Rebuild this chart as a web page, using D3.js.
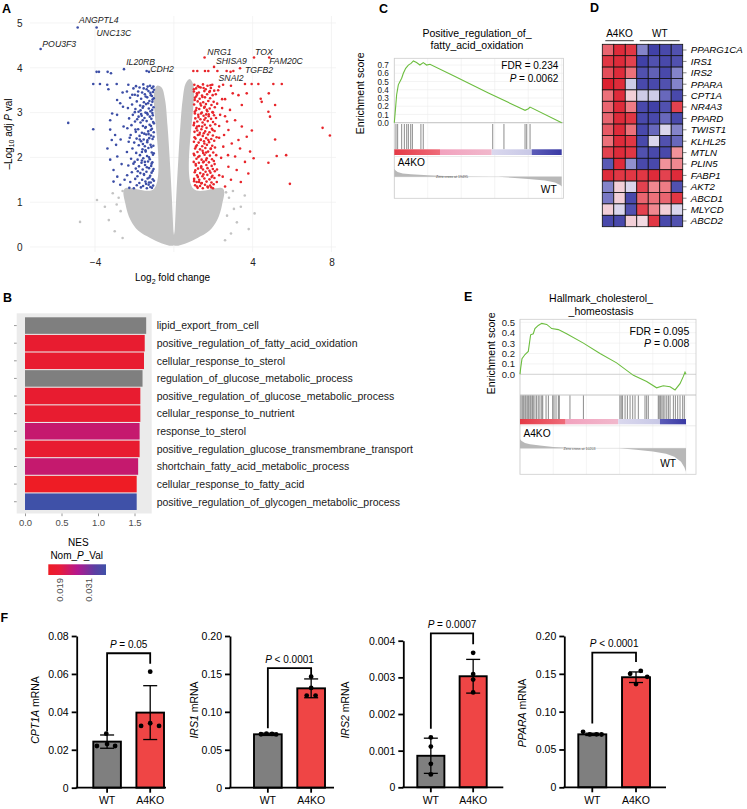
<!DOCTYPE html>
<html>
<head>
<meta charset="utf-8">
<script src="https://cdnjs.cloudflare.com/ajax/libs/d3/7.8.5/d3.min.js"></script>
<style>
body { margin: 0; background: #fff; }
svg { font-family: "Liberation Sans", Arial, sans-serif; }
</style>
</head>
<body>
<svg id="fig" width="747" height="809"></svg>
<script>
// ---------------- data ----------------
// A: volcano
var volcanoLabeled = [
  ["ANGPTL4", -4.88, 4.90], ["UNC13C", -3.92, 4.90], ["POU3F3", -6.76, 4.42],
  ["IL20RB", -2.53, 3.97], ["CDH2", -1.38, 3.93], ["NRG1", 1.56, 4.23],
  ["TOX", 4.07, 4.23], ["FAM20C", 4.84, 4.23], ["SHISA9", 2.04, 4.02],
  ["TGFB2", 3.36, 3.99], ["SNAI2", 2.88, 3.91]
];
var labelNudge = [[1.3, -4.2], [0, 8.5], [1.7, -1.7], [2.2, -4.1], [3.5, 0.8], [2.8, -2.5],
  [1, -2.5], [0, 6.8], [2, -2.6], [5, 5], [-12, 9]];
var volcanoBlue = [
  [-2.31,3.62],[-1.92,3.59],[-1.55,3.63],[-1.21,3.60],[-1.04,3.58],
  [-2.05,3.54],[-1.74,3.56],[-1.38,3.52],[-1.12,3.55],
  [-2.38,3.47],[-1.61,3.45],[-1.29,3.48],[-1.06,3.46],
  [-1.98,3.40],[-1.83,3.38],[-1.47,3.41],[-1.17,3.39],
  [-2.22,3.33],[-1.66,3.31],[-1.35,3.34],[-1.02,3.32],
  [-1.88,3.25],[-1.52,3.23],[-1.24,3.26],[-1.09,3.24],
  [-2.12,3.18],[-1.71,3.16],[-1.41,3.19],[-1.15,3.17],
  [-2.33,3.10],[-1.95,3.08],[-1.58,3.11],[-1.27,3.09],[-1.03,3.12],
  [-1.79,3.02],[-1.44,3.00],[-1.19,3.03],
  [-2.08,2.95],[-1.63,2.93],[-1.33,2.96],[-1.07,2.94],
  [-2.27,2.87],[-1.86,2.85],[-1.49,2.88],[-1.14,2.86],
  [-1.97,2.80],[-1.69,2.78],[-1.38,2.81],[-1.05,2.79],
  [-2.15,2.72],[-1.57,2.70],[-1.23,2.73],
  [-2.36,2.65],[-1.81,2.63],[-1.45,2.66],[-1.11,2.64],
  [-1.93,2.57],[-1.62,2.55],[-1.30,2.58],[-1.02,2.56],
  [-2.19,2.50],[-1.74,2.48],[-1.40,2.51],[-1.16,2.49],
  [-1.89,2.42],[-1.53,2.40],[-1.25,2.43],[-1.08,2.41],
  [-2.29,2.35],[-2.01,2.33],[-1.66,2.36],[-1.35,2.34],
  [-1.78,2.27],[-1.47,2.25],[-1.18,2.28],[-1.04,2.26],
  [-2.10,2.20],[-1.59,2.18],[-1.29,2.21],
  [-2.38,2.12],[-1.91,2.10],[-1.43,2.13],[-1.12,2.11],
  [-1.72,2.05],[-1.36,2.03],[-1.06,2.06],
  [-2.17,1.97],[-1.84,1.95],[-1.55,1.98],[-1.22,1.96],
  [-1.99,1.90],[-1.64,1.88],[-1.31,1.91],[-1.09,1.89],
  [-2.31,1.82],[-1.77,1.80],[-1.46,1.83],[-1.15,1.81],
  [-1.93,1.75],[-1.58,1.73],[-1.26,1.76],[-1.03,1.74],
  [-2.13,1.67],[-1.70,1.65],[-1.39,1.68],[-1.13,1.66],
  [-2.37,1.60],[-1.85,1.58],[-1.51,1.61],[-1.20,1.59],
  [-1.96,1.52],[-1.61,1.50],[-1.33,1.53],[-1.07,1.51],
  [-2.21,1.45],[-1.75,1.43],[-1.44,1.46],[-1.17,1.44],
  [-1.88,1.38],[-1.56,1.36],[-1.28,1.39],[-1.05,1.37],
  [-2.26,1.32],[-2.03,1.31],[-1.67,1.33],[-1.37,1.31],[-1.11,1.32],
  [-1.01,3.51],[-1.33,3.58],[-1.19,3.44],[-1.43,3.36],[-1.08,3.29],[-1.31,3.21],[-1.55,3.14],
  [-1.10,3.06],[-1.36,2.99],[-1.22,2.91],[-1.58,2.83],[-1.01,2.76],[-1.42,2.68],[-1.17,2.61],
  [-1.50,2.53],[-1.03,2.46],[-1.34,2.38],[-1.57,2.30],[-1.14,2.23],[-1.44,2.16],[-1.02,2.09],
  [-1.26,2.00],[-1.62,1.93],[-1.13,1.86],[-1.37,1.78],[-1.07,1.70],[-1.52,1.63],[-1.24,1.55],
  [-1.01,1.48],[-1.41,1.41],[-1.19,1.34],[-1.81,3.47],[-1.79,2.91],[-1.73,2.40],[-1.83,1.69],
  [-1.69,3.05],[-1.62,2.12],[-1.95,2.62],[-2.11,3.40],[-2.24,2.44],[-2.05,1.86],[-1.98,3.01],
  [-1.28,2.52],[-1.11,3.37],[-1.47,1.90],[-1.09,2.99],[-1.26,1.44],[-1.66,2.97],[-1.53,3.54],
  [-1.16,2.70],
  // sparse
  [-5.36,2.77],[-4.09,2.63],[-3.92,3.91],[-3.80,3.91],[-3.36,3.91],[-3.19,3.88],[-1.26,3.91],
  [-4.09,3.64],[-3.75,3.64],[-3.38,3.62],[-2.90,3.64],[-3.32,3.52],[-2.88,3.28],[-2.72,3.21],
  [-3.13,2.98],[-2.88,2.95],[-2.58,3.13],[-3.23,2.62],[-2.98,2.50],[-3.15,2.39],[-3.37,2.20],
  [-2.93,2.28],[-2.87,2.02],[-3.23,1.95],[-3.06,1.72],[-2.87,1.57],[-3.06,1.46],[-2.72,1.39],
  [-2.55,2.69],[-3.23,2.83],[-2.65,1.85],[-2.60,3.45],[-2.50,1.50],[-2.70,2.40]
];
var volcanoRed = [
  [1.04,3.62],[1.22,3.59],[1.48,3.63],[1.71,3.60],[1.95,3.62],[2.30,3.58],
  [1.13,3.54],[1.36,3.56],[1.62,3.52],[1.88,3.55],
  [1.02,3.47],[1.27,3.45],[1.55,3.48],[1.80,3.46],[2.05,3.49],
  [1.18,3.40],[1.43,3.38],[1.69,3.41],[1.97,3.39],
  [1.07,3.33],[1.31,3.31],[1.58,3.34],[1.84,3.32],[2.45,3.30],
  [1.21,3.25],[1.49,3.23],[1.75,3.26],[2.02,3.24],
  [1.03,3.18],[1.38,3.16],[1.63,3.19],[1.91,3.17],
  [1.15,3.10],[1.29,3.08],[1.54,3.11],[1.82,3.09],[2.08,3.12],
  [1.06,3.02],[1.42,3.00],[1.70,3.03],[1.96,3.01],
  [1.24,2.95],[1.51,2.93],[1.77,2.96],[2.04,2.94],[2.60,2.92],
  [1.09,2.87],[1.35,2.85],[1.61,2.88],[1.89,2.86],
  [1.19,2.80],[1.46,2.78],[1.72,2.81],[1.99,2.79],
  [1.01,2.72],[1.28,2.70],[1.57,2.73],[1.85,2.71],[2.10,2.74],
  [1.14,2.65],[1.40,2.63],[1.66,2.66],[1.93,2.64],
  [1.05,2.57],[1.32,2.55],[1.59,2.58],[1.81,2.56],[2.07,2.59],
  [1.22,2.50],[1.47,2.48],[1.73,2.51],[1.98,2.49],
  [1.10,2.42],[1.37,2.40],[1.64,2.43],[1.90,2.41],[2.30,2.44],
  [1.02,2.35],[1.26,2.33],[1.53,2.36],[1.79,2.34],[2.05,2.37],
  [1.17,2.27],[1.44,2.25],[1.68,2.28],[1.95,2.26],
  [1.08,2.20],[1.33,2.18],[1.60,2.21],[1.87,2.19],[2.09,2.22],
  [1.20,2.12],[1.49,2.10],[1.74,2.13],[2.00,2.11],
  [1.04,2.05],[1.30,2.03],[1.56,2.06],[1.83,2.04],
  [1.15,1.97],[1.41,1.95],[1.67,1.98],[1.94,1.96],[2.40,1.99],
  [1.01,1.90],[1.27,1.88],[1.52,1.91],[1.78,1.89],[2.03,1.92],
  [1.12,1.82],[1.39,1.80],[1.65,1.83],[1.92,1.81],
  [1.23,1.75],[1.48,1.73],[1.71,1.76],[1.98,1.74],
  [1.06,1.67],[1.34,1.65],[1.61,1.68],[1.86,1.66],[2.08,1.69],
  [1.18,1.60],[1.45,1.58],[1.70,1.61],[1.96,1.59],
  [1.03,1.52],[1.29,1.50],[1.55,1.53],[1.81,1.51],[2.06,1.54],
  [1.16,1.45],[1.42,1.43],[1.66,1.46],[1.91,1.44],
  [1.08,1.38],[1.33,1.36],[1.58,1.39],[1.84,1.37],[2.02,1.40],
  [1.21,1.32],[1.47,1.31],[1.73,1.33],[1.99,1.31],
  [1.02,3.52],[1.29,3.57],[1.17,3.43],[1.45,3.35],[1.06,3.28],[1.35,3.20],[1.57,3.13],
  [1.12,3.05],[1.38,2.98],[1.25,2.90],[1.55,2.84],[1.03,2.77],[1.44,2.69],[1.19,2.60],
  [1.52,2.54],[1.05,2.45],[1.36,2.39],[1.55,2.31],[1.12,2.24],[1.46,2.15],[1.01,2.08],
  [1.24,2.01],[1.64,1.94],[1.11,1.85],[1.39,1.77],[1.09,1.71],[1.50,1.62],[1.22,1.56],
  [1.03,1.47],[1.39,1.42],[1.17,1.35],[1.83,3.48],[1.77,2.92],[1.75,2.39],[1.81,1.70],
  [1.67,3.06],[1.64,2.11],[1.97,2.61],[2.13,3.41],[2.17,2.45],[2.07,1.85],[1.99,3.00],
  [1.30,2.51],[1.13,3.36],[1.49,1.89],[1.07,2.98],[1.28,1.45],[1.64,2.96],[1.51,3.55],
  [1.18,2.69],[1.88,2.20],[1.92,1.56],[2.14,2.88],[1.71,1.35],[2.19,1.73],[1.86,3.61],
  [2.20,3.20],[2.15,2.05],[1.90,1.33],[2.18,1.45],
  // sparse
  [0.99,3.93],[1.19,3.93],[1.58,3.93],[1.75,3.93],[2.21,3.93],[2.68,3.93],[3.02,3.93],
  [2.99,3.43],[3.28,3.39],[3.70,3.43],[4.41,3.31],[4.82,3.43],[4.46,3.24],[3.45,3.17],
  [5.14,3.17],[4.80,3.02],[4.88,2.91],[2.85,3.06],[2.35,2.95],[3.11,2.83],[3.45,2.69],
  [3.96,2.60],[2.77,2.61],[7.55,2.66],[7.92,2.49],[5.14,2.40],[3.70,2.46],[3.28,2.39],
  [2.94,2.31],[2.51,2.24],[3.36,2.20],[3.87,2.13],[3.11,2.02],[5.22,2.03],[5.70,2.05],
  [4.80,1.88],[3.61,1.90],[2.77,1.79],[3.19,1.72],[3.78,1.64],[2.48,1.57],[5.89,1.41],
  [3.61,3.64],[3.95,3.64],[4.29,3.64],[5.05,3.64],[5.48,3.64],[2.25,3.50],[2.60,3.30],
  [2.70,2.80],[2.30,2.70],[2.55,2.50],[2.90,1.50],[3.40,1.45],[2.60,1.35],[2.30,1.60],
  [2.75,2.05],[4.05,1.98],[2.45,3.10],[2.90,3.60],[2.50,3.62]
];
var volcanoGray = [
  [-4.76,0.56],[-3.5,0.90],[-3.3,0.60],[-3.0,0.35],[-2.8,1.10],[-2.7,0.80],[-3.1,1.20],
  [-2.6,0.20],[-3.9,1.05],[-2.6,1.25],[-2.9,0.95],
  [3.4,0.90],[3.2,0.55],[2.9,0.30],[2.8,1.10],[2.7,0.70],[3.6,1.15],[4.1,0.75],[2.6,0.15],
  [3.0,1.25],[3.8,0.40],[2.65,1.22],[3.05,0.85]
];
var grayLeftLobe = [[0,0.04],[-0.6,0.08],[-1.2,0.2],[-1.8,0.36],[-2.2,0.6],[-2.45,0.95],[-2.5,1.3],
  [-1.0,1.3],[-1.0,3.45],[-0.85,3.6],[-0.62,3.56],[-0.45,3.3],[-0.32,2.7],[-0.2,1.9],[-0.1,1.1],[-0.03,0.4]];
var grayRightLobe = [[0,0.04],[0.05,0.4],[0.12,1.1],[0.22,1.9],[0.33,2.7],[0.45,3.3],[0.6,3.65],
  [0.8,3.75],[1.0,3.6],[1.0,1.3],[2.5,1.3],[2.45,0.95],[2.2,0.6],[1.8,0.36],[1.2,0.2],[0.6,0.08]];
var volcanoXTicks = [-4, 4, 8];
var volcanoGridX = [-4, 0, 4, 8];
var volcanoYTicks = [0, 1, 2, 3, 4, 5];

// B: GO terms
var goTerms = ["lipid_export_from_cell", "positive_regulation_of_fatty_acid_oxidation",
  "cellular_response_to_sterol", "regulation_of_glucose_metabolic_process",
  "positive_regulation_of_glucose_metabolic_process", "cellular_response_to_nutrient",
  "response_to_sterol", "positive_regulation_glucose_transmembrane_transport",
  "shortchain_fatty_acid_metabolic_process", "cellular_response_to_fatty_acid",
  "positive_regulation_of_glycogen_metabolic_process"];
var goNES = [1.66, 1.64, 1.63, 1.61, 1.58, 1.58, 1.57, 1.57, 1.55, 1.53, 1.53];
var goPval = [null, 0.0195, 0.0195, null, 0.0195, 0.0195, 0.0225, 0.0195, 0.0225, 0.019, 0.031];
var nesTicks = [0, 0.5, 1.0, 1.5];
var pLegendTicks = [0.019, 0.031];

// C, E: GSEA
var gseaPct = [0, 20, 40, 60, 80, 100];
var faoCurve = [[0,0],[0.8,0.19],[1.4,0.34],[2.4,0.46],[3.4,0.50],[4.4,0.54],[5.4,0.60],[6.8,0.66],
  [8.4,0.70],[10,0.72],[11.4,0.75],[13.3,0.73],[15.3,0.70],[17.3,0.73],[19.3,0.70],[21.3,0.71],
  [36.3,0.56],[56.2,0.36],[76.1,0.17],[78.1,0.15],[80.1,0.17],[81.1,0.19],[100,0]];
var faoHits = [1.0, 2.0, 4.4, 6.0, 7.4, 8.4, 9.8, 10.8, 15.9, 17.3, 58.8, 65.5, 78.1, 79.1, 81.1];
var faoMetric = [[0,1.0],[1,0.75],[2,0.6],[5,0.42],[10,0.3],[20,0.2],[30,0.1],[45,0.03],[57,0],
  [62,0],[70,-0.12],[80,-0.28],[90,-0.48],[96,-0.75],[99,-1.05],[100,-1.25]];
var faoBands = [[0,27.3,"#e43a46","#ef6c7a"],[27.3,58.2,"#f2a2be","#f1b8cc"],
  [58.2,82.1,"#dad8ee","#c8c8e6"],[82.1,100,"#5c5cb8","#3a3aa4"]];
var cholCurve = [[0,0],[0.4,0.06],[1.2,0.15],[3.0,0.19],[5.0,0.22],[6.4,0.38],[8.0,0.39],[9.0,0.44],
  [11.0,0.47],[13.1,0.49],[16.1,0.48],[19.1,0.44],[23.1,0.43],[28.1,0.39],[38.2,0.30],[48.2,0.20],
  [58.2,0.11],[68.3,-0.01],[76.3,-0.07],[82.3,-0.13],[86.3,-0.11],[90.4,-0.12],[93.4,-0.15],
  [96.4,-0.09],[98.4,-0.02],[99.4,0.02],[100,0.0]];
var cholHits = [0.6,1.4,2.2,3.0,3.6,4.4,5.2,6.0,6.6,7.4,8.0,9.0,10.0,11.0,12.0,13.1,13.7,15.7,17.1,
  19.7,20.5,21.7,23.1,23.7,30.1,38.2,60.2,61.0,61.8,63.3,64.7,66.3,67.9,69.3,71.3,75.3,76.3,77.3,
  83.3,83.9,84.7,85.5,86.3,87.3,88.4,89.4,90.4,92.4,93.6,95.0,96.4,98.0,99.0];
var cholMetric = [[0,1.0],[1,0.8],[3,0.6],[6,0.45],[12,0.3],[20,0.15],[30,0.06],[45,0.01],[52,0],
  [60,0],[70,-0.15],[80,-0.35],[88,-0.6],[93,-0.95],[97,-1.5],[99,-2.1],[100,-2.6]];
var cholBands = [[0,27.5,"#e43a46","#ef6c7a"],[27.5,59.2,"#f2a2be","#f1b8cc"],
  [59.2,84.3,"#dad8ee","#c8c8e6"],[84.3,100,"#5c5cb8","#3a3aa4"]];

// D: heatmap
var heatGenes = ["PPARG1CA","IRS1","IRS2","PPARA","CPT1A","NR4A3","PPARD","TWIST1","KLHL25",
  "MTLN","PLIN5","FABP1","AKT2","ABCD1","MLYCD","ABCD2"];
var heatGroups = ["A4KO","A4KO","A4KO","WT","WT","WT","WT"];
var heatValues = [
  [1.3, 1.8, 1.7, -0.9, -1.7, -1.6, -1.5],
  [1.7, 1.8, 1.6, -1.7, -1.5, -1.6, -1.5],
  [1.5, 1.8, 1.2, -1.5, -1.3, -1.6, -0.9],
  [1.9, 1.8, -0.3, -1.6, -1.6, -1.5, -0.9],
  [1.2, 1.8, 0.3, -0.3, -0.3, -1.2, -1.6],
  [1.3, 1.8, 1.1, -1.6, -1.7, -1.5, 1.6],
  [1.3, 1.8, 1.7, -1.6, -1.6, -1.2, -1.6],
  [1.4, 1.8, 1.2, -1.6, -1.2, -0.2, -0.9],
  [1.2, 1.8, 1.7, -1.6, -0.2, -1.5, -1.2],
  [1.6, 1.8, 1.7, -1.5, -1.6, -1.6, 0.9],
  [-1.4, 1.8, -0.8, -1.6, -1.6, 0.9, 1.0],
  [1.8, 1.7, 1.7, 1.7, 1.8, 1.6, 1.8],
  [-0.9, 0.3, -0.2, 1.6, 1.0, 1.1, -1.5],
  [-1.0, 0.3, -1.6, 1.3, 1.2, 1.3, 1.7],
  [0.3, -0.2, -1.5, 1.6, 1.0, 0.3, -0.2],
  [-1.6, -1.6, 0.3, 0.2, 1.7, -1.6, -1.5]
];

// F: qPCR
var fGenes = ["CPT1A", "IRS1", "IRS2", "PPARA"];
var fGroups = ["WT", "A4KO"];
var fMean = [[0.0243, 0.0396], [0.0704, 0.1310], [0.00086, 0.00303], [0.0700, 0.1455]];
var fSd = [[0.0035, 0.0142], [0.0015, 0.0124], [0.00048, 0.00046], [0.0015, 0.0070]];
var fDots = [
  [[0.0220, 0.0285, 0.0230, 0.0220], [0.0612, 0.0326, 0.0340, 0.0326]],
  [[0.0705, 0.0712, 0.0710, 0.0702], [0.1464, 0.1315, 0.1215, 0.1215]],
  [[0.00136, 0.00111, 0.00064, 0.00035], [0.00367, 0.00309, 0.00294, 0.00259]],
  [[0.0733, 0.0699, 0.0700, 0.0698], [0.1500, 0.1540, 0.1365, 0.1460]]
];
var fJitter = [
  [[-0.37, -0.03, 0, 0.29], [0, -0.33, 0, 0.32]],
  [[-0.25, -0.05, 0.15, 0.3], [0, 0, -0.16, 0.16]],
  [[0, 0, 0, 0], [0, 0, 0, 0]],
  [[-0.33, -0.09, 0.15, 0.33], [-0.21, 0.17, 0, 0.4]]
];
var fYMax = [0.08, 0.20, 0.004, 0.20];
var fYTicks = [[0, 0.02, 0.04, 0.06, 0.08], [0, 0.05, 0.10, 0.15, 0.20],
  [0, 0.001, 0.002, 0.003, 0.004], [0, 0.05, 0.10, 0.15, 0.20]];
var fTickLabels = [["0", "0.02", "0.04", "0.06", "0.08"], ["0", "0.05", "0.10", "0.15", "0.20"],
  ["0", "0.001", "0.002", "0.003", "0.004"], ["0", "0.05", "0.10", "0.15", "0.20"]];
var fBracket = [[0.0709, 0.0296, 0.0653], [0.1576, 0.0784, 0.146], [0.0042, 0.0016, 0.0039], [0.178, 0.0844, 0.1657]];
var fPText = ["= 0.05", "< 0.0001", "= 0.0007", "< 0.0001"];

// ---------------- drawing ----------------
var svg = d3.select("#fig");
var defs = svg.append("defs");

function letter(t, x, y) {
  svg.append("text").attr("x", x).attr("y", y).attr("font-size", 12.5)
    .attr("font-weight", "bold").text(t);
}
letter("A", 2, 13.3);
letter("B", 3, 301.7);
letter("C", 379, 13);
letter("D", 590, 12.3);
letter("E", 464, 301);
letter("F", 0.5, 621.7);

// ----- A -----
var ax = d3.scaleLinear().domain([-7.3, 8.2]).range([30, 335.4]);
var ay = d3.scaleLinear().domain([0, 5]).range([247, 23]);
var gA = svg.append("g");
gA.selectAll("line.hg").data(volcanoYTicks).enter().append("line")
  .attr("x1", 30).attr("x2", 336).attr("y1", d => ay(d)).attr("y2", d => ay(d))
  .attr("stroke", "#efefef").attr("stroke-width", 0.7);
gA.selectAll("line.vg").data(volcanoGridX).enter().append("line")
  .attr("x1", d => ax(d)).attr("x2", d => ax(d)).attr("y1", 16).attr("y2", 252)
  .attr("stroke", "#efefef").attr("stroke-width", 0.7);

var lobe = d3.line().x(d => ax(d[0])).y(d => ay(d[1])).curve(d3.curveCatmullRomClosed);
[grayLeftLobe, grayRightLobe].forEach(function(p) {
  gA.append("path").attr("d", lobe(p)).attr("fill", "#c3c3c3");
});
function dots(data, color) {
  gA.append("g").selectAll("circle").data(data).enter().append("circle")
    .attr("cx", d => ax(d[0])).attr("cy", d => ay(d[1])).attr("r", 1.3).attr("fill", color);
}
dots(volcanoGray, "#c3c3c3");
dots(volcanoBlue, "#3c4ea6");
dots(volcanoRed, "#e8252b");
gA.append("g").selectAll("circle").data(volcanoLabeled).enter().append("circle")
  .attr("cx", d => ax(d[1])).attr("cy", d => ay(d[2])).attr("r", 1.3)
  .attr("fill", d => d[1] < 0 ? "#3c4ea6" : "#e8252b");
gA.append("g").selectAll("text").data(volcanoLabeled).enter().append("text")
  .attr("x", (d, i) => ax(d[1]) + labelNudge[i][0]).attr("y", (d, i) => ay(d[2]) + labelNudge[i][1])
  .attr("font-size", 8.7).attr("font-style", "italic").attr("fill", "#222").text(d => d[0]);

var yAxA = gA.append("g").attr("transform", "translate(30,0)")
  .call(d3.axisLeft(ay).tickValues(volcanoYTicks).tickSize(0).tickPadding(7.5).tickFormat(d3.format("d")));
var xAxA = gA.append("g").attr("transform", "translate(0,252)")
  .call(d3.axisBottom(ax).tickValues(volcanoXTicks).tickSize(0).tickPadding(7)
    .tickFormat(d => d < 0 ? "\u2212" + Math.abs(d) : d));
[yAxA, xAxA].forEach(function(a) {
  a.attr("font-family", null).attr("font-size", 10);
  a.select(".domain").remove();
  a.selectAll("text").attr("fill", "#222");
});
var xt = gA.append("text").attr("x", 172.5).attr("y", 281).attr("text-anchor", "middle").attr("font-size", 10);
xt.append("tspan").text("Log");
xt.append("tspan").attr("dy", 2.5).attr("font-size", 7).text("2");
xt.append("tspan").attr("dy", -2.5).text(" fold change");
var yt = gA.append("text").attr("transform", "translate(11.5,134) rotate(-90)")
  .attr("text-anchor", "middle").attr("font-size", 10);
yt.append("tspan").text("\u2013Log");
yt.append("tspan").attr("dy", 2.5).attr("font-size", 7).text("10");
yt.append("tspan").attr("dy", -2.5).text(" adj ");
yt.append("tspan").attr("font-style", "italic").text("P");
yt.append("tspan").text(" val");

// ----- B -----
var gB = svg.append("g");
var bx = d3.scaleLinear().domain([0, 1.5]).range([25, 134.5]);
var by = d3.scaleBand().domain(goTerms).range([317.3, 510]).paddingInner(0.06);
var pColor = d3.scaleLinear().domain([0.019, 0.024, 0.031]).range(["#ee1c25", "#b4188e", "#3f51a8"]);
gB.append("rect").attr("x", 16.7).attr("y", 313.3).attr("width", 135).attr("height", 200.2).attr("fill", "#ebebeb");
gB.selectAll("rect.bar").data(goTerms).enter().append("rect")
  .attr("x", bx(0)).attr("y", d => by(d)).attr("height", by.bandwidth())
  .attr("width", (d, i) => bx(goNES[i]) - bx(0))
  .attr("fill", (d, i) => goPval[i] === null ? "#7f7f7f" : pColor(goPval[i]));
gB.selectAll("line.yt").data(goTerms).enter().append("line")
  .attr("x1", 14).attr("x2", 16.7).attr("y1", d => by(d) + by.bandwidth() / 2).attr("y2", d => by(d) + by.bandwidth() / 2)
  .attr("stroke", "#333").attr("stroke-width", 0.5);
gB.selectAll("text.term").data(goTerms).enter().append("text")
  .attr("x", 156.7).attr("y", d => by(d) + by.bandwidth() / 2 + 3.8)
  .attr("font-size", 10.5).attr("fill", "#1a1a1a").text(d => d);
var bAxis = gB.append("g").attr("transform", "translate(0,513.5)")
  .call(d3.axisBottom(bx).tickValues(nesTicks).tickSize(2.7).tickPadding(3).tickFormat(d3.format(".1f")));
bAxis.attr("font-family", null).attr("font-size", 9.5);
bAxis.select(".domain").remove();
bAxis.selectAll("line").attr("stroke", "#333").attr("stroke-width", 0.5);
bAxis.selectAll("text").attr("fill", "#4d4d4d");
gB.append("text").attr("x", 78.3).attr("y", 545.5).attr("text-anchor", "middle").attr("font-size", 10).text("NES");
var npv = gB.append("text").attr("x", 76.7).attr("y", 559).attr("text-anchor", "middle").attr("font-size", 10);
npv.append("tspan").text("Nom_");
npv.append("tspan").attr("font-style", "italic").text("P");
npv.append("tspan").text("_Val");
var lg = defs.append("linearGradient").attr("id", "nomp");
[[0, "#ee1c25"], [0.2, "#e81c3c"], [0.5, "#b4188e"], [0.8, "#5d3ea2"], [1, "#3f51a8"]].forEach(function(s) {
  lg.append("stop").attr("offset", s[0]).attr("stop-color", s[1]);
});
gB.append("rect").attr("x", 48.3).attr("y", 564.3).attr("width", 57.7).attr("height", 10.7).attr("fill", "url(#nomp)");
var legX = d3.scaleLinear().domain(pLegendTicks).range([60, 88.3]);
gB.selectAll("text.lt").data(pLegendTicks).enter().append("text")
  .attr("transform", d => "translate(" + (legX(d) + 3.3) + ",578) rotate(-90)")
  .attr("text-anchor", "end").attr("font-size", 9.5).attr("fill", "#4d4d4d")
  .text(d => d3.format(".3f")(d));

// ----- C, E -----
function drawGsea(c, curve, hits, metric, bands) {
  var g = svg.append("g");
  var rx = d3.scaleLinear().domain([0, 100]).range([c.x0, c.x1]);
  var ry = d3.scaleLinear().domain(c.esDomain).range([c.esBottom, c.top]);
  var my = d3.scaleLinear().domain([0, 1]).range([c.metricZero, c.metricZero - c.metricUnit]);
  g.selectAll("line.vg").data(gseaPct).enter().append("line")
    .attr("x1", d => rx(d)).attr("x2", d => rx(d)).attr("y1", c.top).attr("y2", c.boxBottom)
    .attr("stroke", "#ececec").attr("stroke-width", 0.6);
  g.selectAll("line.hg").data(c.esTicks).enter().append("line")
    .attr("x1", c.x0).attr("x2", c.right).attr("y1", d => ry(d)).attr("y2", d => ry(d))
    .attr("stroke", "#ececec").attr("stroke-width", 0.6);
  g.append("rect").attr("x", c.x0).attr("y", c.top).attr("width", c.right - c.x0)
    .attr("height", c.boxBottom - c.top).attr("fill", "none").attr("stroke", "#cdcdcd").attr("stroke-width", 0.8);
  g.append("line").attr("x1", c.x0).attr("x2", c.right).attr("y1", c.esBottom).attr("y2", c.esBottom)
    .attr("stroke", "#b5b5b5").attr("stroke-width", 0.8);
  g.append("line").attr("x1", c.x0).attr("x2", c.right).attr("y1", c.barBottom + 1.5).attr("y2", c.barBottom + 1.5)
    .attr("stroke", "#dedede").attr("stroke-width", 0.6);
  if (c.zeroLine) {
    g.append("line").attr("x1", c.x0).attr("x2", c.right).attr("y1", ry(0)).attr("y2", ry(0))
      .attr("stroke", "#bdbdbd").attr("stroke-width", 0.6);
  }
  var esAxis = g.append("g").attr("transform", "translate(" + c.x0 + ",0)")
    .call(d3.axisLeft(ry).tickValues(c.esTicks).tickSize(0).tickPadding(c.tickPad).tickFormat(d3.format(".1f")));
  esAxis.attr("font-family", null).attr("font-size", c.tickFont);
  esAxis.select(".domain").remove();
  esAxis.selectAll("text").attr("fill", "#222");
  g.append("path").datum(curve).attr("d", d3.line().x(d => rx(d[0])).y(d => ry(d[1])))
    .attr("fill", "none").attr("stroke", "#6cbd3f").attr("stroke-width", 1.1);
  g.selectAll("line.hit").data(hits).enter().append("line")
    .attr("x1", d => rx(d)).attr("x2", d => rx(d)).attr("y1", c.hitTop).attr("y2", c.barTop)
    .attr("stroke", "#333").attr("stroke-opacity", 0.7).attr("stroke-width", 0.8);
  bands.forEach(function(b, i) {
    var id = c.id + "band" + i;
    var gr = defs.append("linearGradient").attr("id", id);
    gr.append("stop").attr("offset", 0).attr("stop-color", b[2]);
    gr.append("stop").attr("offset", 1).attr("stop-color", b[3]);
    g.append("rect").attr("x", rx(b[0])).attr("width", rx(b[1]) - rx(b[0]))
      .attr("y", c.barTop).attr("height", c.barBottom - c.barTop).attr("fill", "url(#" + id + ")");
  });
  g.append("line").attr("x1", c.x0).attr("x2", c.x1).attr("y1", my(0)).attr("y2", my(0))
    .attr("stroke", "#c8c8c8").attr("stroke-width", 0.5);
  g.append("path").datum(metric)
    .attr("d", d3.area().x(d => rx(d[0])).y0(my(0)).y1(d => my(d[1])))
    .attr("fill", "#b8b8b8");
  g.append("text").attr("x", c.zeroX).attr("y", my(0) + 1.4).attr("text-anchor", "middle")
    .attr("font-size", 3.6).attr("fill", "#555").text(c.zeroText);
  g.append("text").attr("x", c.x0 + 3.4).attr("y", c.koY).attr("font-size", 10.2).text("A4KO");
  g.append("text").attr("x", c.wtX).attr("y", c.wtY).attr("text-anchor", "end").attr("font-size", 10.2).text("WT");
  c.title.forEach(function(t, i) {
    g.append("text").attr("x", c.titleX).attr("y", c.titleY[i]).attr("text-anchor", "middle")
      .attr("font-size", 10.5).text(t);
  });
  g.append("text").attr("x", c.statX).attr("y", c.statY[0]).attr("text-anchor", "end")
    .attr("font-size", c.statFont).text("FDR = " + c.fdr);
  var pt = g.append("text").attr("x", c.statX).attr("y", c.statY[1]).attr("text-anchor", "end")
    .attr("font-size", c.statFont);
  pt.append("tspan").attr("font-style", "italic").text("P");
  pt.append("tspan").text(" = " + c.p);
  g.append("text").attr("transform", "translate(" + c.labelX + "," + c.labelY + ") rotate(-90)")
    .attr("text-anchor", "middle").attr("font-size", 10.5).text("Enrichment score");
}

drawGsea({
  id: "fao", x0: 394.3, x1: 561.7, right: 563.5, top: 58.3, esBottom: 122.7, esDomain: [0, 0.782],
  esTicks: [0, 0.1, 0.2, 0.3, 0.4, 0.5, 0.6, 0.7], tickFont: 8.2, tickPad: 5.5, zeroLine: false,
  hitTop: 124, barTop: 149.3, barBottom: 155, metricZero: 176.7, metricUnit: 7.8,
  zeroX: 452, zeroText: "Zero cross at 19495", koY: 166, wtX: 556.7, wtY: 193.3, boxBottom: 198.3,
  title: ["Positive_regulation_of_", "fatty_acid_oxidation"], titleX: 477, titleY: [37, 49],
  statX: 558.3, statY: [69.3, 81.7], statFont: 10, fdr: "0.234", p: "0.0062", labelX: 364.3, labelY: 93.3
}, faoCurve, faoHits, faoMetric, faoBands);

drawGsea({
  id: "chol", x0: 520, x1: 686, right: 696, top: 319.3, esBottom: 395, esDomain: [-0.199, 0.529],
  esTicks: [0, 0.1, 0.2, 0.3, 0.4, 0.5], tickFont: 9.5, tickPad: 5, zeroLine: true,
  hitTop: 395.5, barTop: 419, barBottom: 424.3, metricZero: 448.3, metricUnit: 9,
  zeroX: 579.5, zeroText: "Zero cross at 10203", koY: 436.7, wtX: 676, wtY: 467.3, boxBottom: 474.3,
  title: ["Hallmark_cholesterol_", "_homeostasis"], titleX: 601, titleY: [302, 314.7],
  statX: 689.3, statY: [335, 346.7], statFont: 10.5, fdr: "0.095", p: "0.008", labelX: 495, labelY: 353.3
}, cholCurve, cholHits, cholMetric, cholBands);

// ----- D -----
var gD = svg.append("g");
var hx = d3.scaleBand().domain(d3.range(heatGroups.length)).range([602.3, 682.7]);
var hy = d3.scaleBand().domain(heatGenes).range([44.3, 226.7]);
var hColor = d3.scaleLinear().domain([-2, -1, 0, 1, 2])
  .range(["#2a2a9a", "#7878c4", "#f3eef6", "#f08890", "#da1424"]);
heatValues.forEach(function(row, r) {
  gD.append("g").selectAll("rect").data(row).enter().append("rect")
    .attr("x", (d, k) => hx(k)).attr("y", hy(heatGenes[r]))
    .attr("width", hx.bandwidth()).attr("height", hy.bandwidth())
    .attr("fill", d => hColor(d)).attr("stroke", "#111").attr("stroke-width", 0.8);
});
gD.selectAll("line.tk").data(heatGenes).enter().append("line")
  .attr("x1", 682.7).attr("x2", 686.5).attr("y1", d => hy(d) + hy.bandwidth() / 2).attr("y2", d => hy(d) + hy.bandwidth() / 2)
  .attr("stroke", "#333").attr("stroke-width", 0.6);
gD.selectAll("text.gene").data(heatGenes).enter().append("text")
  .attr("x", 690.7).attr("y", d => hy(d) + hy.bandwidth() / 2 + 3.4)
  .attr("font-size", 9.7).attr("font-style", "italic").text(d => d);
["A4KO", "WT"].forEach(function(grp) {
  var idx = d3.range(heatGroups.length).filter(k => heatGroups[k] === grp);
  var x0 = hx(idx[0]), x1 = hx(idx[idx.length - 1]) + hx.bandwidth();
  gD.append("line").attr("x1", x0 + 3).attr("x2", x1 - 3).attr("y1", 40.7).attr("y2", 40.7)
    .attr("stroke", "#222").attr("stroke-width", 0.9);
  gD.append("text").attr("x", (x0 + x1) / 2).attr("y", 36.5).attr("text-anchor", "middle")
    .attr("font-size", 10).text(grp);
});

// ----- F -----
var fLayout = [
  { axisX: 76.7, right: 166, band: [93.3, 164], y0: 787.7, yTop: 636, labelX: 39, labelY: 710 },
  { axisX: 230, right: 334, band: [254, 325], y0: 787.7, yTop: 636, labelX: 197.5, labelY: 710 },
  { axisX: 403.3, right: 503.3, band: [417.3, 486.7], y0: 787.3, yTop: 640.7, labelX: 349, labelY: 710 },
  { axisX: 564.3, right: 666, band: [578.3, 650], y0: 787.3, yTop: 636, labelX: 525.7, labelY: 713 }
];
var fFill = { WT: "#7f7f7f", A4KO: "#ef4545" };
fGenes.forEach(function(gene, i) {
  var L = fLayout[i];
  var g = svg.append("g");
  var x = d3.scaleBand().domain(fGroups).range(L.band).paddingInner(0.36);
  var y = d3.scaleLinear().domain([0, fYMax[i]]).range([L.y0, L.yTop]);
  var cx = d => x(d) + x.bandwidth() / 2;
  g.selectAll("rect").data(fGroups).enter().append("rect")
    .attr("x", d => x(d)).attr("width", x.bandwidth())
    .attr("y", (d, k) => y(fMean[i][k])).attr("height", (d, k) => L.y0 - y(fMean[i][k]))
    .attr("fill", d => fFill[d]).attr("stroke", "#000").attr("stroke-width", 1.9);
  fGroups.forEach(function(grp, k) {
    var m = fMean[i][k], s = fSd[i][k], c = cx(grp);
    g.append("line").attr("x1", c).attr("x2", c).attr("y1", y(m - s)).attr("y2", y(m + s))
      .attr("stroke", "#000").attr("stroke-width", 1.3);
    [m - s, m + s].forEach(function(v) {
      g.append("line").attr("x1", c - 7).attr("x2", c + 7).attr("y1", y(v)).attr("y2", y(v))
        .attr("stroke", "#000").attr("stroke-width", 1.3);
    });
    g.append("g").selectAll("circle").data(fDots[i][k]).enter().append("circle")
      .attr("cx", (d, j) => c + fJitter[i][k][j] * x.bandwidth()).attr("cy", d => y(d))
      .attr("r", 2.4).attr("fill", "#000");
  });
  var ya = g.append("g").attr("transform", "translate(" + L.axisX + ",0)")
    .call(d3.axisLeft(y).tickValues(fYTicks[i]).tickFormat((d, k) => fTickLabels[i][k])
      .tickSize(5).tickSizeOuter(0).tickPadding(3));
  ya.attr("font-family", null).attr("font-size", 10.5);
  ya.selectAll("line, path").attr("stroke-width", 1.8);
  var xa = g.append("g").attr("transform", "translate(0," + L.y0 + ")")
    .call(d3.axisBottom(x).tickSize(5).tickSizeOuter(0).tickPadding(4));
  xa.attr("font-family", null).attr("font-size", 10.5);
  xa.select(".domain").remove();
  xa.selectAll("line").attr("stroke-width", 1.8);
  g.append("line").attr("x1", L.axisX - 0.9).attr("x2", L.right).attr("y1", L.y0).attr("y2", L.y0)
    .attr("stroke", "#000").attr("stroke-width", 1.8);
  var br = fBracket[i];
  g.append("path")
    .attr("d", "M" + cx("WT") + "," + y(br[1]) + "V" + y(br[0]) + "H" + cx("A4KO") + "V" + y(br[2]))
    .attr("fill", "none").attr("stroke", "#000").attr("stroke-width", 1.8);
  var pt = g.append("text").attr("x", (cx("WT") + cx("A4KO")) / 2).attr("y", y(br[0]) - 5.5)
    .attr("text-anchor", "middle").attr("font-size", 10);
  pt.append("tspan").attr("font-style", "italic").text("P");
  pt.append("tspan").text(" " + fPText[i]);
  var yl = g.append("text").attr("transform", "translate(" + L.labelX + "," + L.labelY + ") rotate(-90)")
    .attr("text-anchor", "middle").attr("font-size", 10.5);
  yl.append("tspan").attr("font-style", "italic").text(gene);
  yl.append("tspan").text(" mRNA");
});
</script>
</body>
</html>
